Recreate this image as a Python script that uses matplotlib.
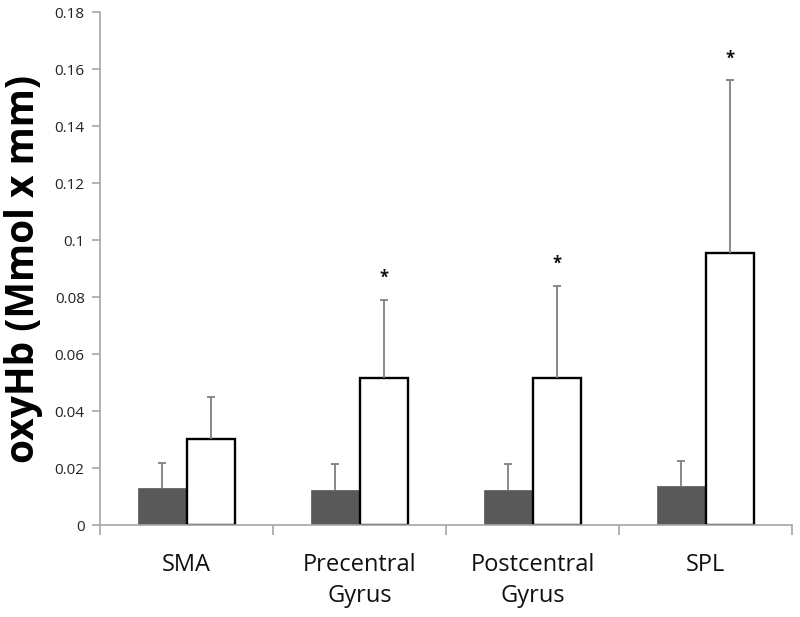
import matplotlib.pyplot as plt
import numpy as np

categories = ["SMA", "Precentral\nGyrus", "Postcentral\nGyrus", "SPL"]
dark_vals = [0.0129, 0.0122, 0.0122, 0.0137]
dark_err = [0.0089, 0.0091, 0.0091, 0.0088]
white_vals = [0.0302, 0.0516, 0.0516, 0.0954]
white_err = [0.0147, 0.0274, 0.0324, 0.0608]
stars = ["", "*", "*", "*"]
yticks = [0, 0.02, 0.04, 0.06, 0.08, 0.1, 0.12, 0.14, 0.16, 0.18]
ytick_labels = ["0", "0.02", "0.04", "0.06", "0.08", "0.1", "0.12", "0.14", "0.16", "0.18"]

plt.rcParams["font.family"] = ["Open Sans", "DejaVu Sans"]

fig = plt.figure(figsize=(8, 6.17), dpi=100)
ax = fig.add_axes([0.125, 0.149, 0.865, 0.831])

x = np.arange(len(categories))
w = 0.283

ax.bar(x - w / 2, dark_vals, w, color="#595959", edgecolor="#595959", linewidth=0.5, zorder=2)
ax.bar(x + w / 2, white_vals, w, color="white", edgecolor="black", linewidth=1.7, zorder=2)


def up_errors(xs, vals, errs):
    # only the upper half of the error bar, no cap at the bar top
    _, caps, _ = ax.errorbar(xs, vals, yerr=[np.zeros(len(xs)), errs], fmt="none",
                             ecolor="#808080", elinewidth=1.3, capsize=3, capthick=1.3, zorder=3)
    caps[0].set_visible(False)


up_errors(x - w / 2, dark_vals, dark_err)
up_errors(x + w / 2, white_vals, white_err)

for xi, v, e, s in zip(x, white_vals, white_err, stars):
    if s:
        ax.text(xi + w / 2, v + e + 0.0045, s, ha="center", va="bottom", fontsize=12,
                fontweight="bold", color="#111111")

ax.set_xlim(-0.5, len(categories) - 0.5)
ax.set_ylim(0, 0.18)
ax.set_yticks(yticks)
ax.set_yticklabels(ytick_labels)
ax.set_xticks(x)
ax.set_xticklabels(categories, fontsize=17, linespacing=1.4)
ax.set_xticks(np.arange(-0.5, len(categories), 1.0), minor=True)
ax.tick_params(axis="x", which="major", length=0, pad=20, labelcolor="#111111")
ax.tick_params(axis="x", which="minor", length=7, color="#a6a6a6", width=1.2)
ax.tick_params(axis="y", length=6, color="#a6a6a6", width=1.2, labelsize=11,
               labelcolor="#222222", pad=5)

for sp in ["top", "right"]:
    ax.spines[sp].set_visible(False)
for sp in ["left", "bottom"]:
    ax.spines[sp].set_color("#a6a6a6")
    ax.spines[sp].set_linewidth(1.2)

ax.set_ylabel("oxyHb (Mmol x mm)", fontsize=28, fontweight="bold", labelpad=8)

fig.savefig("out.png", dpi=100, facecolor="white")
